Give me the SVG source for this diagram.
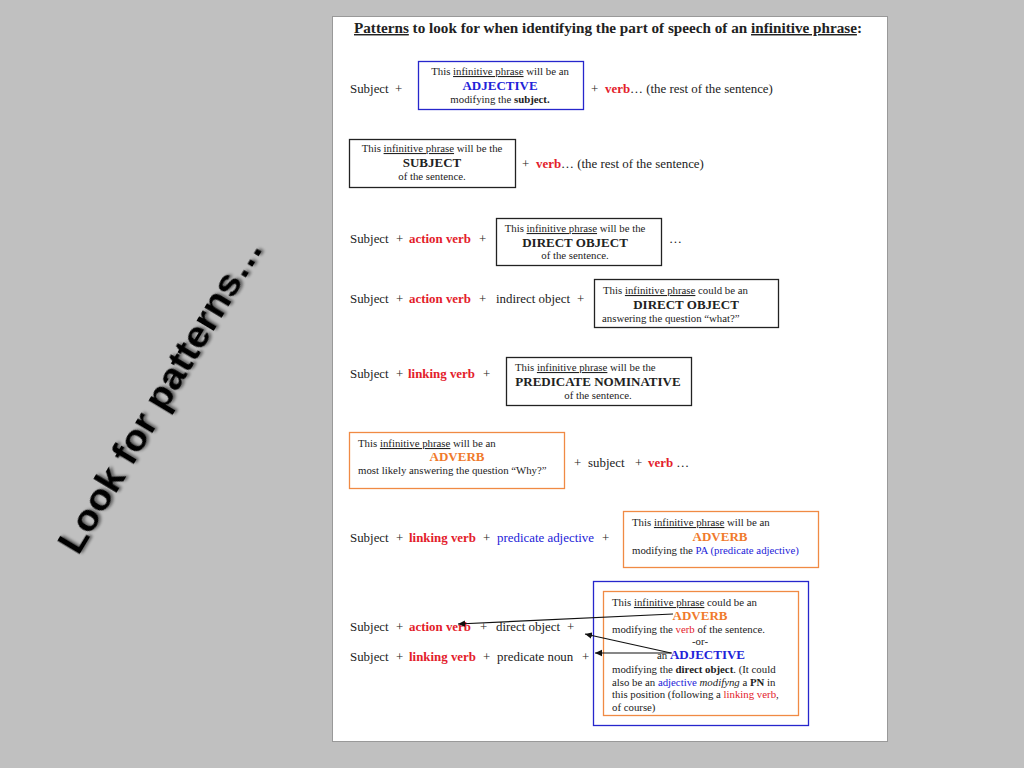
<svg xmlns="http://www.w3.org/2000/svg" width="1024" height="768" viewBox="0 0 1024 768">
<style>
text{font-family:"Liberation Serif","Times New Roman",serif;fill:#222}
.t{font-size:12.9px}
.s{font-size:10.8px}
.h{font-size:13px;font-weight:bold}
.b{font-weight:bold}
.i{font-style:italic}
.u{text-decoration:underline}
.red{fill:#e3202a}
.blue{fill:#2222d8}
.org{fill:#f07a2c}
.mid{text-anchor:middle}
.bx{fill:#fff;stroke-width:1.3}
.kb{stroke:#222}
.bb{stroke:#2626cc}
.ob{stroke:#f08a44}
.con{stroke:#111;stroke-width:1.2;fill:none}
</style>
<defs>
<marker id="ah" markerWidth="8" markerHeight="8" refX="7" refY="4" orient="auto" markerUnits="userSpaceOnUse">
<path d="M0,0.8 L7,4 L0,7.2 Z" fill="#111"/>
</marker>
<filter id="sh" x="-10%" y="-10%" width="120%" height="120%">
<feGaussianBlur in="SourceAlpha" stdDeviation="1.5"/>
<feOffset dx="2" dy="2" result="o"/>
<feComponentTransfer><feFuncA type="linear" slope="0.5"/></feComponentTransfer>
<feMerge><feMergeNode/><feMergeNode in="SourceGraphic"/></feMerge>
</filter>
</defs>
<rect width="1024" height="768" fill="#c0c0c0"/>
<rect x="332.5" y="16.5" width="555" height="725" fill="#fff" stroke="#999"/>

<g id="side-label">
<text x="171" y="402" transform="rotate(-59 171 402)" text-anchor="middle" filter="url(#sh)" style="font-family:'Liberation Sans',Arial,sans-serif;font-size:37px;font-weight:bold;fill:#000" textLength="360" lengthAdjust="spacingAndGlyphs">Look for patterns…</text>
</g>

<g id="title">
<text x="354" y="33" class="b" style="font-size:14.5px" textLength="508" lengthAdjust="spacingAndGlyphs"><tspan class="u">Patterns</tspan> to look for when identifying the part of speech of an <tspan class="u">infinitive phrase</tspan>:</text>
</g>

<g id="row1">
<text x="350" y="93" class="t">Subject</text>
<text x="395" y="93" class="t">+</text>
<g id="box-adjective">
<rect x="418.5" y="61.5" width="165" height="48" class="bx bb"/>
<text x="500" y="75" class="s mid">This <tspan class="u">infinitive phrase</tspan> will be an</text>
<text x="500" y="90" class="h mid blue">ADJECTIVE</text>
<text x="500" y="103" class="s mid">modifying the <tspan class="b">subject.</tspan></text>
</g>
<text x="591" y="93" class="t">+</text>
<text x="605" y="93" class="t"><tspan class="b red">verb</tspan>… (the rest of the sentence)</text>
</g>

<g id="row2">
<g id="box-subject">
<rect x="349.5" y="139.5" width="166" height="48" class="bx kb"/>
<text x="432" y="152" class="s mid">This <tspan class="u">infinitive phrase</tspan> will be the</text>
<text x="432" y="167" class="h mid">SUBJECT</text>
<text x="432" y="180" class="s mid">of the sentence.</text>
</g>
<text x="522" y="168" class="t">+</text>
<text x="536" y="168" class="t"><tspan class="b red">verb</tspan>… (the rest of the sentence)</text>
</g>

<g id="row3">
<text x="350" y="243" class="t">Subject</text>
<text x="396" y="243" class="t">+</text>
<text x="409" y="243" class="t b red">action verb</text>
<text x="479" y="243" class="t">+</text>
<g id="box-direct-object">
<rect x="496.5" y="218.5" width="165" height="47" class="bx kb"/>
<text x="575" y="232" class="s mid">This <tspan class="u">infinitive phrase</tspan> will be the</text>
<text x="575" y="247" class="h mid">DIRECT OBJECT</text>
<text x="575" y="259" class="s mid">of the sentence.</text>
</g>
<text x="669" y="243" class="t">…</text>
</g>

<g id="row4">
<text x="350" y="303" class="t">Subject</text>
<text x="396" y="303" class="t">+</text>
<text x="409" y="303" class="t b red">action verb</text>
<text x="479" y="303" class="t">+</text>
<text x="496" y="303" class="t">indirect object</text>
<text x="577" y="303" class="t">+</text>
<g id="box-direct-object-what">
<rect x="594.5" y="279.5" width="184" height="48" class="bx kb"/>
<text x="603" y="294" class="s">This <tspan class="u">infinitive phrase</tspan> could be an</text>
<text x="686" y="309" class="h mid">DIRECT OBJECT</text>
<text x="602" y="322" class="s">answering the question “what?”</text>
</g>
</g>

<g id="row5">
<text x="350" y="378" class="t">Subject</text>
<text x="396" y="378" class="t">+</text>
<text x="408" y="378" class="t b red">linking verb</text>
<text x="483" y="378" class="t">+</text>
<g id="box-predicate-nominative">
<rect x="506.5" y="357.5" width="185" height="48" class="bx kb"/>
<text x="515" y="371" class="s">This <tspan class="u">infinitive phrase</tspan> will be the</text>
<text x="598" y="386" class="h mid">PREDICATE NOMINATIVE</text>
<text x="598" y="399" class="s mid">of the sentence.</text>
</g>
</g>

<g id="row6">
<g id="box-adverb-why">
<rect x="349.5" y="432.5" width="215" height="56" class="bx ob"/>
<text x="358" y="447" class="s">This <tspan class="u">infinitive phrase</tspan> will be an</text>
<text x="457" y="461" class="h mid org">ADVERB</text>
<text x="358" y="474" class="s">most likely answering the question “Why?”</text>
</g>
<text x="574" y="467" class="t">+</text>
<text x="588" y="467" class="t">subject</text>
<text x="635" y="467" class="t">+</text>
<text x="648" y="467" class="t"><tspan class="b red">verb</tspan> …</text>
</g>

<g id="row7">
<text x="350" y="542" class="t">Subject</text>
<text x="396" y="542" class="t">+</text>
<text x="409" y="542" class="t b red">linking verb</text>
<text x="483" y="542" class="t">+</text>
<text x="497" y="542" class="t blue">predicate adjective</text>
<text x="602" y="542" class="t">+</text>
<g id="box-adverb-pa">
<rect x="623.5" y="511.5" width="195" height="56" class="bx ob"/>
<text x="632" y="526" class="s">This <tspan class="u">infinitive phrase</tspan> will be an</text>
<text x="720" y="541" class="h mid org">ADVERB</text>
<text x="632" y="554" class="s">modifying the <tspan class="blue">PA (predicate adjective)</tspan></text>
</g>
</g>

<g id="row8">
<text x="350" y="631" class="t">Subject</text>
<text x="396" y="631" class="t">+</text>
<text x="409" y="631" class="t b red">action verb</text>
<text x="480" y="631" class="t">+</text>
<text x="496" y="631" class="t">direct object</text>
<text x="567" y="631" class="t">+</text>
<text x="350" y="661" class="t">Subject</text>
<text x="396" y="661" class="t">+</text>
<text x="409" y="661" class="t b red">linking verb</text>
<text x="483" y="661" class="t">+</text>
<text x="497" y="661" class="t">predicate noun</text>
<text x="582" y="661" class="t">+</text>
<g id="box-adverb-or-adjective">
<rect x="593.5" y="581.5" width="215" height="144" class="bx bb"/>
<rect x="603.5" y="591.5" width="195" height="124" class="bx ob"/>
<text x="612" y="606" class="s">This <tspan class="u">infinitive phrase</tspan> could be an</text>
<text x="700" y="620" class="h mid org">ADVERB</text>
<text x="612" y="633" class="s">modifying the <tspan class="red">verb</tspan> of the sentence.</text>
<text x="700" y="645" class="s mid">-or-</text>
<text x="657" y="659" class="s">an <tspan class="h blue">ADJECTIVE</tspan></text>
<text x="612" y="673" class="s">modifying the <tspan class="b">direct object</tspan>. (It could</text>
<text x="612" y="686" class="s">also be an <tspan class="blue">adjective</tspan> <tspan class="i">modifyng</tspan> a <tspan class="b">PN</tspan> in</text>
<text x="612" y="698" class="s">this position (following a <tspan class="red">linking verb</tspan>,</text>
<text x="612" y="711" class="s">of course)</text>
</g>
</g>

<g id="connectors">
<line x1="673" y1="614" x2="458" y2="624" class="con" marker-end="url(#ah)"/>
<line x1="671" y1="653" x2="585" y2="634" class="con" marker-end="url(#ah)"/>
<line x1="672" y1="653" x2="595" y2="653" class="con" marker-end="url(#ah)"/>
</g>
</svg>
